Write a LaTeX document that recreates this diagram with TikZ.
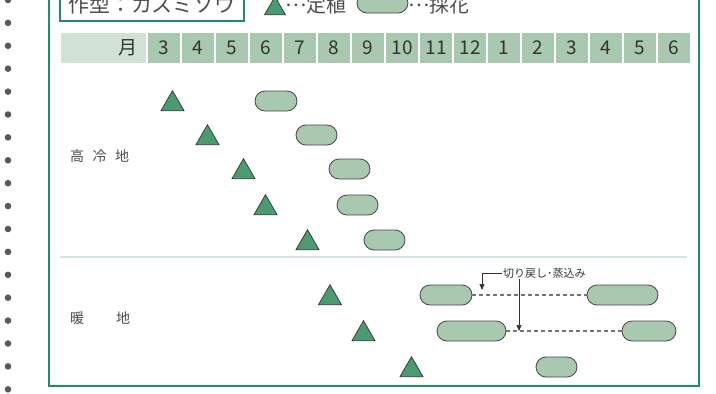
\documentclass[tikz,border=0pt]{standalone}
\usepackage{fontspec}
\setmainfont{Noto Sans CJK JP}
\usepackage{tikz}
\usetikzlibrary{arrows.meta,positioning,shapes.geometric,shapes.misc,calc}
\definecolor{frameGreen}{HTML}{1E8F5E}
\definecolor{cellGreen}{HTML}{A8C8B0}
\definecolor{cellLight}{HTML}{D0E1D5}
\definecolor{plantGreen}{HTML}{4A9B70}
\definecolor{sepGreen}{HTML}{D6E6DB}
\definecolor{ink}{HTML}{333333}
\newcommand\middots{\raisebox{0.32em}{…}}
\tikzset{
  cal/month/.style={fill=cellGreen, minimum width=32pt, minimum height=30pt, inner sep=0pt, text=ink, font=\fontsize{19}{19}\selectfont},
  cal/head/.style={fill=cellLight, minimum width=85pt, minimum height=30pt, inner sep=0pt, text=ink, font=\fontsize{19}{19}\selectfont},
  cal/plant/.style={draw=ink, fill=plantGreen, regular polygon, regular polygon sides=3, minimum size=26.6pt, inner sep=0pt, anchor=south, line width=0.7pt},
  cal/harvest/.style={draw=ink!90, fill=cellGreen, rounded rectangle, minimum height=20pt, inner sep=0pt, line width=0.8pt},
  cal/gap/.style={dash pattern=on 4pt off 3pt, draw=black!55, line width=1.1pt},
  cal/zone/.style={anchor=west, inner sep=0pt, text=black!70, font=\fontsize{14}{14}\selectfont},
  cal/legend/.style={anchor=west, inner sep=0pt, text=black!70, font=\fontsize{20}{20}\selectfont},
  cal/note/.style={anchor=west, inner sep=1pt, text=ink, font=\fontsize{11}{11}\selectfont},
  arr/.style={-{Triangle[length=6pt,width=5pt]}, draw=ink, line width=0.7pt}
}

\begin{document}
\begin{tikzpicture}[x=1pt, y=-1pt]
\useasboundingbox (0,0) rectangle (716,394);
% binder holes
\foreach \k in {0,...,17}
  \fill[black!65] (8,{22.9*\k}) circle (3.3);
\draw[frameGreen, line width=2pt] (49,-5) |- (699,386) -- (699,-5);

% title and legend
\node[draw=frameGreen, line width=1.5pt, minimum width=184pt, minimum height=32pt, inner sep=0pt, text=black!70, font=\fontsize{21}{21}\selectfont] (title) at (152,5) {作型：カスミソウ};
\node[cal/plant, minimum size=24pt] (keyplant) at (275,15) {};
\node[cal/legend] (keyplanttxt) at (285,5) {\middots 定植};
\node[cal/harvest, minimum width=51pt] (keyharvest) at (382.5,3) {};
\node[cal/legend] (keyharvesttxt) at (408,5) {\middots 採花};

% month header
\node[cal/head, text width=69pt, align=right] (hdr) at (103.5,48) {月};
\foreach \m [count=\i from 0] in {3,4,5,6,7,8,9,10,11,12,1,2,3,4,5,6}
  \node[cal/month] (m\i) at ({164+34*\i},48) {\m};

% highland
\node[cal/zone] (high) at (70,156) {高\hspace{8.5pt}冷\hspace{8.5pt}地};
\node[cal/plant] (hp1) at (172.5,111) {};
\node[cal/plant] (hp2) at (207.5,145) {};
\node[cal/plant] (hp3) at (243.5,179) {};
\node[cal/plant] (hp4) at (265.5,215) {};
\node[cal/plant] (hp5) at (307.5,250) {};
\node[cal/harvest, minimum width=42pt] (hh1) at (276,101) {};
\node[cal/harvest, minimum width=41pt] (hh2) at (316.5,135) {};
\node[cal/harvest, minimum width=41pt] (hh3) at (349.5,169) {};
\node[cal/harvest, minimum width=41pt] (hh4) at (357.5,205) {};
\node[cal/harvest, minimum width=41pt] (hh5) at (384.5,240) {};

\draw[sepGreen, line width=2pt] (60,257) -- (687,257);

% warm region
\node[cal/zone] (warm) at (70,318) {暖\hspace{32pt}地};
\node[cal/plant] (wp1) at (330,305) {};
\node[cal/plant] (wp2) at (363.5,341) {};
\node[cal/plant] (wp3) at (411.5,377) {};
\node[cal/harvest, minimum width=52pt] (wh1) at (446,295) {};
\node[cal/harvest, minimum width=71pt] (wh2) at (622.5,295) {};
\node[cal/harvest, minimum width=69pt] (wh3) at (471.5,331) {};
\node[cal/harvest, minimum width=54pt] (wh4) at (649,331) {};
\node[cal/harvest, minimum width=41pt] (wh5) at (556.5,367) {};
\draw[cal/gap] (wh1.east) -- (wh2.west);
\draw[cal/gap] (wh3.east) -- (wh4.west);

\node[cal/note] (cut) at (502,273) {切り戻し･蒸込み};
\coordinate (cutA) at (482,290);
\coordinate (cutB) at (519,331);
\draw[arr] (cut.west) -| (cutA);
\draw[arr] (cut.south -| cutB) -- (cutB);
\end{tikzpicture}
\end{document}
